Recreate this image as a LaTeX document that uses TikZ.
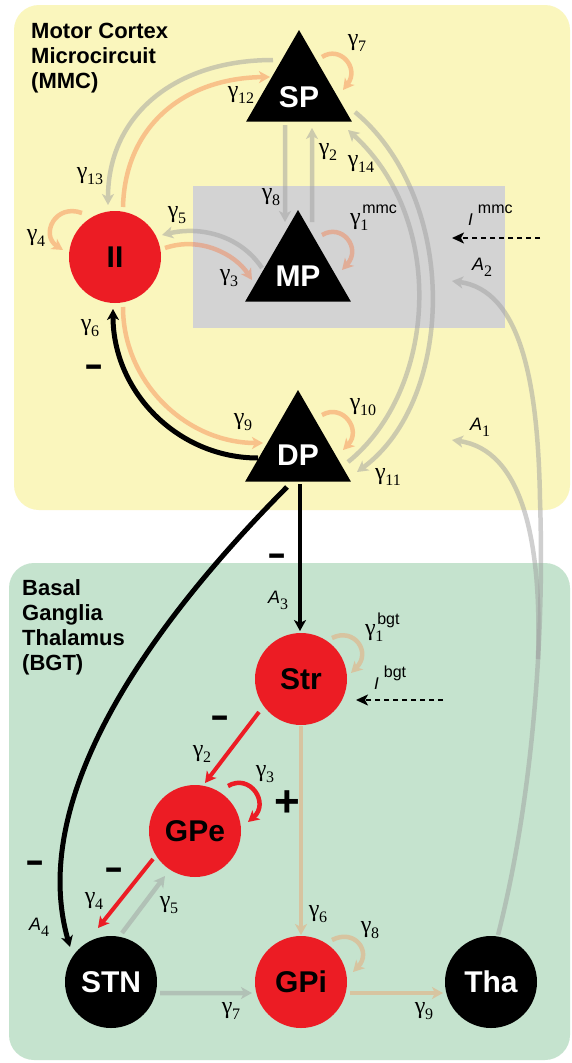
\documentclass[tikz,border=0pt]{standalone}
\usepackage{fontspec}
\usepackage{graphicx}
\setmainfont{Liberation Sans}
\newfontfamily\serifg{Liberation Serif}
\newfontfamily\sansl{Liberation Sans}
\usetikzlibrary{arrows.meta,shapes.geometric}
\pgfdeclarelayer{panel}
\pgfdeclarelayer{edges}
\pgfsetlayers{panel,edges,main}
\definecolor{ybg}{RGB}{250,246,189}
\definecolor{gbg}{RGB}{197,227,206}
\definecolor{rectg}{RGB}{211,211,211}
\definecolor{nred}{RGB}{236,28,36}
\definecolor{lgray}{RGB}{158,158,158}
\definecolor{lorange}{RGB}{247,116,63}
\definecolor{ltan}{RGB}{215,196,160}
\newcommand\nfont{\fontsize{30}{32}\selectfont\bfseries}
\newcommand\gam[1]{{\serifg\fontsize{24}{24}\selectfont γ\kern-0.5pt\raisebox{-6pt}{\fontsize{16}{16}\selectfont #1}}}
\newcommand\gamsup[2]{{\serifg\fontsize{24}{24}\selectfont γ\kern-0.5pt\rlap{\raisebox{-6pt}{\fontsize{16}{16}\selectfont #1}}\kern2pt\raisebox{11pt}{\sansl\fontsize{16}{16}\selectfont #2}}}
\newcommand\Ilab[1]{{\fontsize{17}{17}\selectfont\itshape I}\hspace{5pt}\raisebox{12pt}{\fontsize{16}{16}\selectfont #1}}
\newcommand\Alab[1]{{\fontsize{18}{18}\selectfont\itshape A}\raisebox{-6pt}{\serifg\fontsize{16}{16}\selectfont #1}}
\newcommand\mns{\scalebox{1.6}[1]{\fontsize{36}{36}\selectfont\bfseries -}}
\newcommand\pls{{\fontsize{44}{44}\selectfont\bfseries +}}
\begin{document}
\begin{tikzpicture}[x=1pt,y=-1pt,
  >={Stealth[length=11pt,width=12pt,inset=3pt]},
  tri/.style={regular polygon, regular polygon sides=3, fill=black, minimum size=122pt, inner sep=0pt},
  trilab/.style={text=white, font=\nfont, inner sep=0pt},
  circ/.style={circle, minimum size=92pt, inner sep=0pt, font=\nfont},
  redc/.style={circ, fill=nred, text=black},
  blkc/.style={circ, fill=black, text=white},
  gline/.style={draw=lgray, line width=4.5pt},
  oline/.style={draw=lorange, line width=4.5pt},
  tline/.style={draw=ltan, line width=4.5pt},
  rline/.style={draw=nred, line width=4pt},
  kline/.style={draw=black, line width=5pt},
  dline/.style={draw=black, line width=1.8pt, dash pattern=on 5pt off 4pt, -{Stealth[length=12pt,width=11pt,inset=3pt]}},
  lab/.style={inner sep=0pt},
  ttl/.style={font=\fontsize{22}{25}\selectfont\bfseries, align=left, inner sep=0pt, anchor=north west},
  gtp/.style={transparency group, opacity=0.49},
  otp/.style={transparency group, opacity=0.4}]

\useasboundingbox (0,0) rectangle (571,1063);

\begin{pgfonlayer}{panel}
\fill[white] (0,0) rectangle (571,1063);
\fill[ybg, rounded corners=25pt] (14,5) rectangle (570,510);
\fill[gbg, rounded corners=25pt] (9,563) rectangle (570,1060);
\fill[rectg] (193,186) rectangle (505,328);
\end{pgfonlayer}

% titles
\node[ttl] (tmmc) at (31,23) {Motor Cortex\\Microcircuit\\(MMC)};
\node[ttl] (tbgt) at (22,579) {Basal\\Ganglia\\Thalamus\\(BGT)};

% nodes
\node[tri] (SP) at (299,91) {};
\node[trilab] (SPt) at ([yshift=-6pt]SP.center) {SP};
\node[tri] (MP) at (298,271) {};
\node[trilab] (MPt) at ([yshift=-5pt]MP.center) {MP};
\node[tri] (DP) at (298,451) {};
\node[trilab] (DPt) at ([yshift=-4pt]DP.center) {DP};
\node[redc] (II) at (115,257) {II};
\node[redc] (Str) at (301,679) {Str};
\node[redc] (GPe) at (195,831) {GPe};
\node[blkc] (STN) at (111,982) {STN};
\node[redc] (GPi) at (301,982) {GPi};
\node[blkc] (Tha) at (491,982) {Tha};

\coordinate (Im0) at (540,238);
\coordinate (Im1) at (452,238);
\coordinate (Ib0) at (443,700);
\coordinate (Ib1) at (356,700);
\coordinate (A2e) at (452,281);
\coordinate (A1s) at (538,659);
\coordinate (A1e) at (452,440);

\begin{pgfonlayer}{edges}
% MMC gray
\begin{scope}[gtp]\draw[gline,->] ([shift={(-26,-31)}]SP.center) .. controls (175,60) and (108,115) .. ([shift={(-7,-52)}]II.center);\end{scope}
\begin{scope}[gtp]\draw[gline,->] ([shift={(-14,34)}]SP.center) -- ([shift={(-13,-49)}]MP.center);\end{scope}
\begin{scope}[gtp]\draw[gline,->] ([shift={(14,-49)}]MP.center) -- ([shift={(13,37)}]SP.center);\end{scope}
\begin{scope}[gtp]\draw[gline,->] ([shift={(50,11)}]DP.center) .. controls (437,390) and (447,220) .. ([shift={(49,39)}]SP.center);\end{scope}
\begin{scope}[gtp]\draw[gline,->] ([shift={(56,21)}]SP.center) .. controls (460,200) and (455,400) .. ([shift={(59,21)}]DP.center);\end{scope}
\begin{scope}[gtp]\draw[gline,->] ([shift={(-36,-3)}]MP.center) .. controls (240,235) and (200,226) .. ([shift={(47,-22)}]II.center);\end{scope}
% MMC orange
\begin{scope}[otp]\draw[oline,->] ([shift={(8,-50)}]II.center) .. controls (125,125) and (185,78) .. ([shift={(-29,-14)}]SP.center);\end{scope}
\begin{scope}[otp]\draw[oline,->] ([shift={(23,-34)}]SP.center) .. controls (340,45) and (360,68) .. ([shift={(44,-1)}]SP.center);\end{scope}
\begin{scope}[otp]\draw[oline,->] ([shift={(24,-36)}]MP.center) .. controls (342,223) and (362,248) .. ([shift={(44,-1)}]MP.center);\end{scope}
\begin{scope}[otp]\draw[oline,->] ([shift={(50,-9)}]II.center) .. controls (200,236) and (235,254) .. ([shift={(-46,9)}]MP.center);\end{scope}
\begin{scope}[otp]\draw[oline,->] ([shift={(-33,-44)}]II.center) .. controls (55,203) and (40,235) .. ([shift={(-52,-7)}]II.center);\end{scope}
\begin{scope}[otp]\draw[oline,->] ([shift={(8,50)}]II.center) .. controls (123,382) and (186,443) .. ([shift={(-35,-8)}]DP.center);\end{scope}
\begin{scope}[otp]\draw[oline,->] ([shift={(24,-36)}]DP.center) .. controls (343,403) and (362,430) .. ([shift={(45,-1)}]DP.center);\end{scope}
% black DP -> II
\draw[kline,->] ([shift={(-40,7)}]DP.center) .. controls (178,458) and (113,392) .. ([shift={(-2,52)}]II.center);
% inputs
\draw[dline] (Im0) -- (Im1);
\draw[dline] (Ib0) -- (Ib1);
% thalamic feedback
\begin{scope}[gtp]\draw[gline,->] ([shift={(7,-47)}]Tha.center) .. controls (530,810) and (545,650) .. (540,500) .. controls (538,380) and (520,290) .. (A2e);\end{scope}
\begin{scope}[gtp]\draw[gline,->] (A1s) .. controls (542,540) and (522,450) .. (A1e);\end{scope}
% BGT
\draw[kline,line width=4.5pt,->] ([shift={(2,33)}]DP.center) -- ([shift={(-1,-48)}]Str.center);
\draw[kline,->] ([shift={(-11,36)}]DP.center) .. controls (145,630) and (28,800) .. ([shift={(-41,-35)}]STN.center);
\draw[rline,->] ([shift={(-42,33)}]Str.center) -- ([shift={(10,-48)}]GPe.center);
\draw[rline,line width=4.5pt,->] ([shift={(33,-45)}]GPe.center) .. controls (250,773) and (270,803) .. ([shift={(53,-9)}]GPe.center);
\draw[tline,->] ([shift={(31,-41)}]Str.center) .. controls (354,627) and (372,652) .. ([shift={(50,-6)}]Str.center);
\draw[tline,->] ([shift={(0,47)}]Str.center) -- ([shift={(0,-47)}]GPi.center);
\draw[tline,->] ([shift={(31,-42)}]GPi.center) .. controls (355,928) and (372,952) .. ([shift={(52,-10)}]GPi.center);
\draw[tline,->] ([shift={(49,11)}]GPi.center) -- ([shift={(-48,11)}]Tha.center);
\begin{scope}[gtp]\draw[gline,->] ([shift={(49,11)}]STN.center) -- ([shift={(-49,11)}]GPi.center);\end{scope}
\draw[rline,->] ([shift={(-42,28)}]GPe.center) -- ([shift={(-13,-54)}]STN.center);
\begin{scope}[gtp]\draw[gline,->] ([shift={(11,-49)}]STN.center) -- ([shift={(-30,45)}]GPe.center);\end{scope}
\end{pgfonlayer}

% labels MMC
\node[lab] (g13) at (90,176) {\gam{13}};
\node[lab] (g12) at (241,95) {\gam{12}};
\node[lab] (g7) at (357,43) {\gam{7}};
\node[lab] (g8) at (271,197) {\gam{8}};
\node[lab] (g2) at (328,152) {\gam{2}};
\node[lab] (g14) at (361,164) {\gam{14}};
\node[lab] (g5) at (177,215) {\gam{5}};
\node[lab] (g4) at (36,238) {\gam{4}};
\node[lab] (g3) at (229,278) {\gam{3}};
\node[lab] (g6) at (90,328) {\gam{6}};
\node[lab] (g9) at (243,422) {\gam{9}};
\node[lab] (g10) at (363,407) {\gam{10}};
\node[lab] (g11) at (388,477) {\gam{11}};
\node[lab,anchor=base west] (g1m) at (350,224) {\gamsup{1}{mmc}};
\node[lab,anchor=base west] (Imm) at (468,225) {\Ilab{mmc}};
\node[lab,anchor=base west] (A2l) at (472,270) {\Alab{2}};
\node[lab,anchor=base west] (A1l) at (470,430) {\Alab{1}};
\node[lab] (m1) at (94,371) {\mns};
% labels BGT
\node[lab] (m2) at (277,560) {\mns};
\node[lab,anchor=base west] (A3l) at (268,603) {\Alab{3}};
\node[lab,anchor=base west] (g1b) at (365,635) {\gamsup{1}{bgt}};
\node[lab,anchor=base west] (Ibg) at (374,689) {\Ilab{bgt}};
\node[lab] (m3) at (220,722) {\mns};
\node[lab] (b2) at (202,754) {\gam{2}};
\node[lab] (b3) at (265,774) {\gam{3}};
\node[lab] (pl) at (287,804) {\pls};
\node[lab] (m4) at (35,867) {\mns};
\node[lab] (m5) at (114,874) {\mns};
\node[lab] (b4) at (94,901) {\gam{4}};
\node[lab] (b5) at (169,905) {\gam{5}};
\node[lab,anchor=base west] (A4l) at (29,930) {\Alab{4}};
\node[lab] (b6) at (318,914) {\gam{6}};
\node[lab] (b8) at (370,930) {\gam{8}};
\node[lab] (b7) at (231,1011) {\gam{7}};
\node[lab] (b9) at (424,1011) {\gam{9}};
\end{tikzpicture}
\end{document}
